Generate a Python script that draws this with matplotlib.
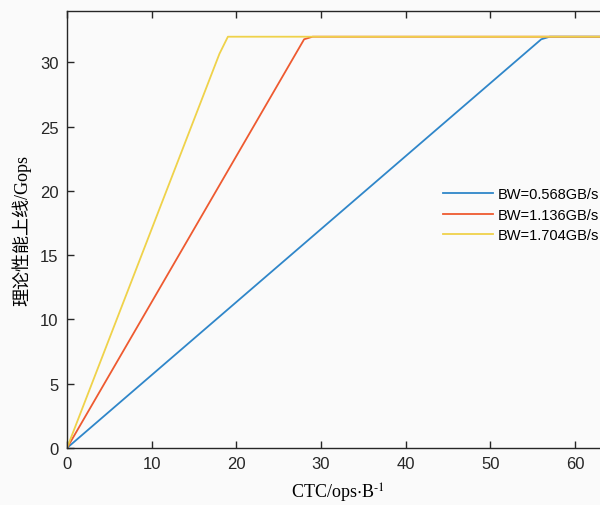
import matplotlib
matplotlib.use("Agg")
import matplotlib.pyplot as plt

plt.rcParams['mathtext.fontset'] = 'stix'

# data (knee points)
x_blue = [0, 56, 57, 64]
y_blue = [0, 31.8, 32, 32]
x_red = [0, 28, 29, 64]
y_red = [0, 31.8, 32, 32]
x_yel = [0, 18, 19, 64]
y_yel = [0, 30.67, 32, 32]
labels = ['BW=0.568GB/s', 'BW=1.136GB/s', 'BW=1.704GB/s']
colors = ['#2F86C9', '#EE5A30', '#EFD24A']
xticks = [0, 10, 20, 30, 40, 50, 60]
yticks = [0, 5, 10, 15, 20, 25, 30]

W, H = 600, 506
fig = plt.figure(figsize=(W/100, H/100), dpi=100, facecolor='#fafafa')
left, right, top, bottom = 67, 609, 12, 449
ax = fig.add_axes([left/W, 1-bottom/H, (right-left)/W, (bottom-top)/H])
ax.set_facecolor('#fafafa')

for xs, ys, lab, c in zip([x_blue, x_red, x_yel], [y_blue, y_red, y_yel], labels, colors):
    ax.plot(xs, ys, color=c, lw=1.3, label=lab)

ax.set_xlim(0, 64)
ax.set_ylim(0, 34)
ax.set_xticks(xticks)
ax.set_yticks(yticks)
ax.tick_params(direction='in', length=5, width=1, colors='#262626', labelsize=12,
               top=True, right=False, pad=6)
for lab in ax.get_xticklabels() + ax.get_yticklabels():
    lab.set_family(['Liberation Sans'])
for s in ax.spines.values():
    s.set_color('#262626')
    s.set_linewidth(1)

ax.set_xlabel(r'CTC/ops$\cdot$B$^{\text{-}1}$', fontsize=13, family=['Liberation Serif'], labelpad=7)
ax.set_ylabel('理论性能上线/Gops', fontsize=13, family=['Liberation Serif', 'Noto Sans CJK SC'], labelpad=6)

leg = fig.legend(loc='upper left', bbox_to_anchor=(430/W, 1-175/H),
                 frameon=False, handlelength=3.4, handletextpad=0.35,
                 labelspacing=0.45, prop={'family': 'Liberation Sans', 'size': 10.5})

fig.savefig('out.png', dpi=100, facecolor=fig.get_facecolor())
